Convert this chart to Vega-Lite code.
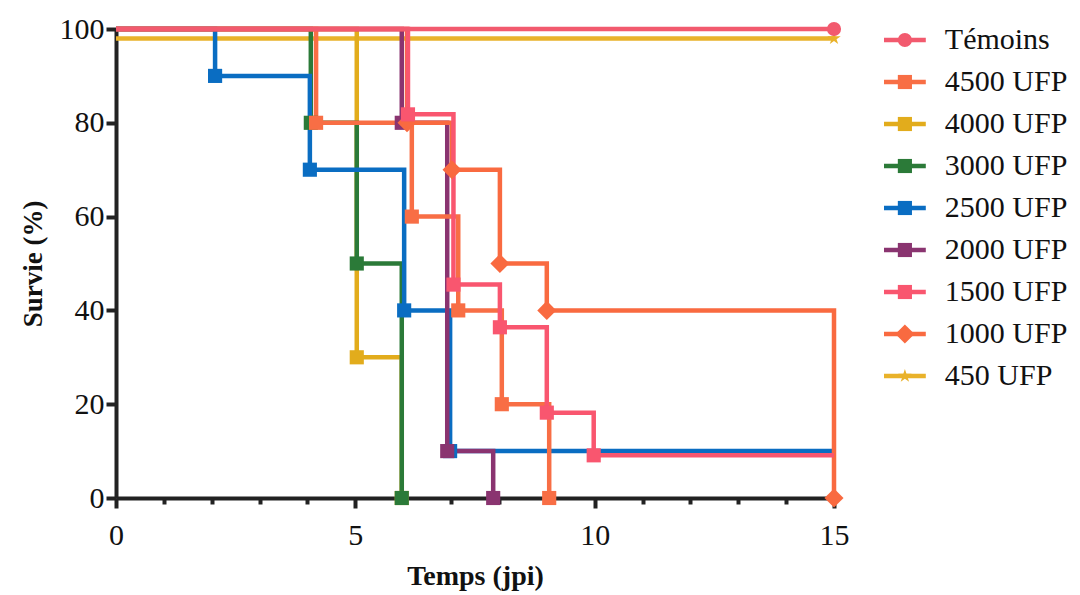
{
  "$schema": "https://vega.github.io/schema/vega-lite/v6.json",
  "background": "white",
  "padding": {"left": 19, "top": 14, "right": 5, "bottom": 5},
  "config": {"view": {"stroke": null}, "font": "Liberation Serif"},
  "spacing": 32,
  "datasets": {
    "survie": [
      {"groupe": "450 UFP", "jour": 0, "survie": 98, "marqueur": false},
      {"groupe": "450 UFP", "jour": 15, "survie": 98, "marqueur": true},
      {"groupe": "4000 UFP", "jour": 0, "survie": 100, "marqueur": false},
      {"groupe": "4000 UFP", "jour": 5.03, "survie": 30, "marqueur": true},
      {"groupe": "4000 UFP", "jour": 5.97, "survie": 0, "marqueur": true},
      {"groupe": "3000 UFP", "jour": 0, "survie": 100, "marqueur": false},
      {"groupe": "3000 UFP", "jour": 4.07, "survie": 80, "marqueur": true},
      {"groupe": "3000 UFP", "jour": 5.03, "survie": 50, "marqueur": true},
      {"groupe": "3000 UFP", "jour": 5.97, "survie": 0, "marqueur": true},
      {"groupe": "2500 UFP", "jour": 0, "survie": 100, "marqueur": false},
      {"groupe": "2500 UFP", "jour": 2.07, "survie": 90, "marqueur": true},
      {"groupe": "2500 UFP", "jour": 4.05, "survie": 70, "marqueur": true},
      {"groupe": "2500 UFP", "jour": 6.02, "survie": 40, "marqueur": true},
      {"groupe": "2500 UFP", "jour": 6.98, "survie": 10, "marqueur": true},
      {"groupe": "2500 UFP", "jour": 15, "survie": 10, "marqueur": false},
      {"groupe": "2000 UFP", "jour": 0, "survie": 100, "marqueur": false},
      {"groupe": "2000 UFP", "jour": 5.97, "survie": 80, "marqueur": true},
      {"groupe": "2000 UFP", "jour": 6.92, "survie": 10, "marqueur": true},
      {"groupe": "2000 UFP", "jour": 7.88, "survie": 0, "marqueur": true},
      {"groupe": "4500 UFP", "jour": 0, "survie": 100, "marqueur": false},
      {"groupe": "4500 UFP", "jour": 4.18, "survie": 80, "marqueur": true},
      {"groupe": "4500 UFP", "jour": 6.18, "survie": 60, "marqueur": true},
      {"groupe": "4500 UFP", "jour": 7.15, "survie": 40, "marqueur": true},
      {"groupe": "4500 UFP", "jour": 8.06, "survie": 20, "marqueur": true},
      {"groupe": "4500 UFP", "jour": 9.05, "survie": 0, "marqueur": true},
      {"groupe": "1000 UFP", "jour": 0, "survie": 100, "marqueur": false},
      {"groupe": "1000 UFP", "jour": 6.08, "survie": 80, "marqueur": true},
      {"groupe": "1000 UFP", "jour": 7.02, "survie": 70, "marqueur": true},
      {"groupe": "1000 UFP", "jour": 8.02, "survie": 50, "marqueur": true},
      {"groupe": "1000 UFP", "jour": 9.0, "survie": 40, "marqueur": true},
      {"groupe": "1000 UFP", "jour": 15, "survie": 0, "marqueur": true},
      {"groupe": "1500 UFP", "jour": 0, "survie": 100, "marqueur": false},
      {"groupe": "1500 UFP", "jour": 6.1, "survie": 81.8, "marqueur": true},
      {"groupe": "1500 UFP", "jour": 7.05, "survie": 45.5, "marqueur": true},
      {"groupe": "1500 UFP", "jour": 8.02, "survie": 36.4, "marqueur": true},
      {"groupe": "1500 UFP", "jour": 9.0, "survie": 18.2, "marqueur": true},
      {"groupe": "1500 UFP", "jour": 9.98, "survie": 9.1, "marqueur": true},
      {"groupe": "1500 UFP", "jour": 15, "survie": 9.1, "marqueur": false},
      {"groupe": "Témoins", "jour": 0, "survie": 100, "marqueur": false},
      {"groupe": "Témoins", "jour": 15, "survie": 100, "marqueur": true}
    ],
    "groupes": [
      {"groupe": "Témoins"},
      {"groupe": "4500 UFP"},
      {"groupe": "4000 UFP"},
      {"groupe": "3000 UFP"},
      {"groupe": "2500 UFP"},
      {"groupe": "2000 UFP"},
      {"groupe": "1500 UFP"},
      {"groupe": "1000 UFP"},
      {"groupe": "450 UFP"}
    ]
  },
  "hconcat": [
    {
      "width": 718,
      "height": 469,
      "data": {"name": "survie"},
      "layer": [
        {
          "mark": {"type": "line", "interpolate": "step-after", "strokeWidth": 4.5},
          "encoding": {
            "x": {
              "field": "jour", "type": "quantitative",
              "scale": {"domain": [0, 15], "nice": false},
              "axis": {
                "values": [0,1,2,3,4,5,6,7,8,9,10,11,12,13,14,15],
                "labelExpr": "datum.value % 5 === 0 ? datum.label : ''",
                "tickSize": {"condition": {"test": "datum.value % 5 === 0", "value": 10}, "value": 6},
                "tickWidth": 4, "tickColor": "#222", "domainColor": "#222", "domainWidth": 4,
                "labelFontSize": 30, "labelColor": "#111", "labelFont": "Liberation Serif",
                "labelPadding": 12, "labelFlush": false, "labelOverlap": false,
                "title": "Temps (jpi)", "titleFontSize": 28, "titleFontWeight": "bold",
                "titleFont": "Liberation Serif", "titleColor": "#111", "titlePadding": 12,
                "grid": false
              }
            },
            "y": {
              "field": "survie", "type": "quantitative",
              "scale": {"domain": [0, 100], "nice": false},
              "axis": {
                "values": [0, 20, 40, 60, 80, 100],
                "tickSize": 10, "tickWidth": 4, "tickColor": "#222", "domainColor": "#222", "domainWidth": 4,
                "labelFontSize": 30, "labelColor": "#111", "labelFont": "Liberation Serif", "labelPadding": 2,
                "title": "Survie (%)", "titleFontSize": 27, "titleFontWeight": "bold",
                "titleFont": "Liberation Serif", "titleColor": "#111", "titlePadding": 12,
                "grid": false
              }
            },
            "color": {
              "field": "groupe", "type": "nominal",
              "scale": {
                "domain": ["Témoins", "4500 UFP", "4000 UFP", "3000 UFP", "2500 UFP", "2000 UFP", "1500 UFP", "1000 UFP", "450 UFP"],
                "range": ["#F25A6E", "#F86E45", "#E2AC1C", "#2B7A38", "#0A6DC2", "#8A3470", "#F9566F", "#F96A40", "#E9B22A"]
              },
              "legend": null
            }
          }
        },
        {
          "transform": [{"filter": "datum.marqueur"}],
          "mark": {"type": "point", "filled": true, "opacity": 1, "size": 200},
          "encoding": {
            "x": {"field": "jour", "type": "quantitative"},
            "y": {"field": "survie", "type": "quantitative"},
            "color": {"field": "groupe", "type": "nominal", "legend": null},
            "shape": {
              "field": "groupe", "type": "nominal",
              "scale": {
                "domain": ["Témoins", "4500 UFP", "4000 UFP", "3000 UFP", "2500 UFP", "2000 UFP", "1500 UFP", "1000 UFP", "450 UFP"],
                "range": ["circle", "square", "square", "square", "square", "square", "square", "M0,-1.35L1.35,0L0,1.35L-1.35,0Z", "M0,-1L0.22,-0.31L0.95,-0.31L0.36,0.12L0.59,0.81L0,0.38L-0.59,0.81L-0.36,0.12L-0.95,-0.31L-0.22,-0.31Z"]
              },
              "legend": null
            }
          }
        }
      ]
    },
    {
      "width": 190,
      "height": 358,
      "data": {"name": "groupes"},
      "encoding": {
        "y": {"field": "groupe", "type": "nominal", "sort": null, "scale": {"type": "point", "padding": 0.262}, "axis": null}
      },
      "layer": [
        {
          "mark": {"type": "rule", "strokeWidth": 4.5},
          "encoding": {
            "x": {"datum": 0, "type": "quantitative", "scale": {"domain": [0, 5], "nice": false}, "axis": null},
            "x2": {"datum": 1.1},
            "color": {
              "field": "groupe", "type": "nominal",
              "scale": {
                "domain": ["Témoins", "4500 UFP", "4000 UFP", "3000 UFP", "2500 UFP", "2000 UFP", "1500 UFP", "1000 UFP", "450 UFP"],
                "range": ["#F25A6E", "#F86E45", "#E2AC1C", "#2B7A38", "#0A6DC2", "#8A3470", "#F9566F", "#F96A40", "#E9B22A"]
              },
              "legend": null
            }
          }
        },
        {
          "mark": {"type": "point", "filled": true, "opacity": 1, "size": 200},
          "encoding": {
            "x": {"datum": 0.55, "type": "quantitative"},
            "color": {"field": "groupe", "type": "nominal", "legend": null},
            "shape": {
              "field": "groupe", "type": "nominal",
              "scale": {
                "domain": ["Témoins", "4500 UFP", "4000 UFP", "3000 UFP", "2500 UFP", "2000 UFP", "1500 UFP", "1000 UFP", "450 UFP"],
                "range": ["circle", "square", "square", "square", "square", "square", "square", "M0,-1.35L1.35,0L0,1.35L-1.35,0Z", "M0,-1L0.22,-0.31L0.95,-0.31L0.36,0.12L0.59,0.81L0,0.38L-0.59,0.81L-0.36,0.12L-0.95,-0.31L-0.22,-0.31Z"]
              },
              "legend": null
            }
          }
        },
        {
          "mark": {"type": "text", "align": "left", "baseline": "middle", "fontSize": 30, "font": "Liberation Serif", "color": "#111"},
          "encoding": {
            "x": {"datum": 1.6, "type": "quantitative"},
            "text": {"field": "groupe", "type": "nominal"}
          }
        }
      ]
    }
  ]
}
